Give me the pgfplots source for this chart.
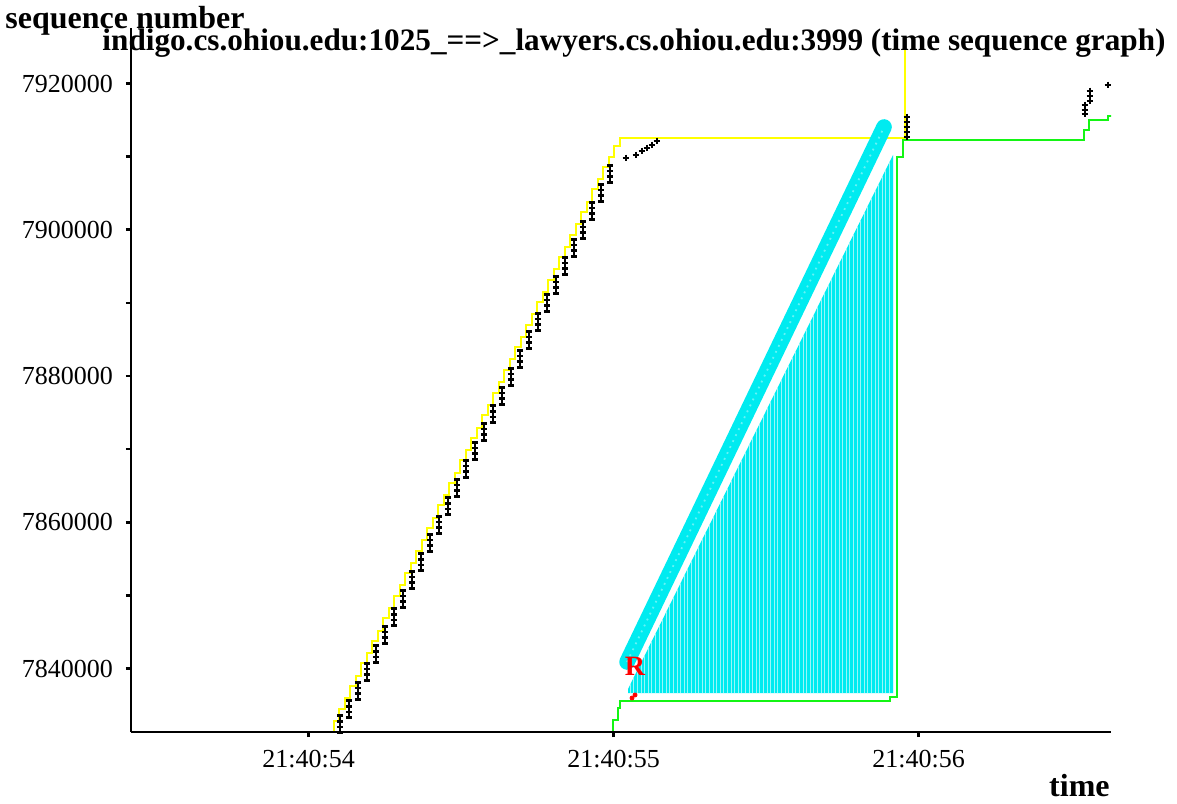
\documentclass[border=0pt]{standalone}
\usepackage{fontspec}
\setmainfont{Liberation Serif}
\usepackage{pgfplots}
\pgfplotsset{compat=1.18}
\usetikzlibrary{patterns.meta}
\definecolor{tyellow}{rgb}{1,1,0}
\definecolor{tgreen}{RGB}{20,245,20}
\definecolor{tcyan}{RGB}{0,235,240}
\pgfdeclareplotmark{segcol}{%
  \pgfpathmoveto{\pgfqpoint{0pt}{-5pt}}\pgfpathlineto{\pgfqpoint{0pt}{5pt}}%
  \pgfpathmoveto{\pgfqpoint{-1.6pt}{-4.2pt}}\pgfpathlineto{\pgfqpoint{1.6pt}{-4.2pt}}%
  \pgfpathmoveto{\pgfqpoint{-1.6pt}{-1.4pt}}\pgfpathlineto{\pgfqpoint{1.6pt}{-1.4pt}}%
  \pgfpathmoveto{\pgfqpoint{-1.6pt}{1.4pt}}\pgfpathlineto{\pgfqpoint{1.6pt}{1.4pt}}%
  \pgfpathmoveto{\pgfqpoint{-1.6pt}{4.2pt}}\pgfpathlineto{\pgfqpoint{1.6pt}{4.2pt}}%
  \pgfusepathqstroke}
\begin{document}
\begin{tikzpicture}
\useasboundingbox (0,0) rectangle (588.5pt,401.5pt);
\begin{axis}[
  at={(65.5pt,35.5pt)}, anchor=south west, scale only axis,
  width=490pt, height=352pt,
  xmin=-0.582, xmax=2.631, ymin=7831318, ymax=7927590,
  axis x line=bottom, axis y line=left,
  axis line style={-, line width=1.3pt},
  xtick={0,1,2}, xticklabels={21:40:54,21:40:55,21:40:56},
  ytick={7840000,7860000,7880000,7900000,7920000},
  yticklabels={7840000,7860000,7880000,7900000,7920000},
  minor ytick={7850000,7870000,7890000,7910000},
  scaled y ticks=false, scaled x ticks=false,
  tick align=outside, major tick length=2.5pt, minor tick length=2.5pt,
  tick style={black, line width=1.3pt},
  tick label style={font=\fontsize{13}{15}\selectfont},
  xticklabel style={yshift=-3pt},
  yticklabel style={xshift=-3pt},
]
% yellow advertised window
\addplot[tyellow, line width=0.75pt, const plot mark right] coordinates {
(0.0836,7831454) (0.1000,7832822) (0.1197,7834463) (0.1361,7835967) (0.1557,7837608)
(0.1721,7838976) (0.1918,7840754) (0.2082,7842121) (0.2279,7843762) (0.2443,7845130)
(0.2639,7846907) (0.2803,7848275) (0.3000,7849916) (0.3164,7851420) (0.3361,7853061)
(0.3525,7854429) (0.3721,7856070) (0.3885,7857574) (0.4082,7859215) (0.4246,7860582)
(0.4443,7862360) (0.4607,7863728) (0.4803,7865369) (0.4967,7866736) (0.5164,7868514)
(0.5328,7869881) (0.5525,7871522) (0.5689,7872890) (0.5885,7874668) (0.6049,7876035)
(0.6246,7877676) (0.6410,7879180) (0.6607,7880821) (0.6770,7882326) (0.6967,7883967)
(0.7131,7885334) (0.7328,7886975) (0.7492,7888479) (0.7689,7890120) (0.7852,7891488)
(0.8049,7893129) (0.8213,7894633) (0.8410,7896274) (0.8574,7897642) (0.8770,7899283)
(0.8934,7900787) (0.9131,7902428) (0.9295,7903795) (0.9492,7905573) (0.9656,7906941)
(0.9852,7908582) (1.0016,7909949) (1.0213,7911453) (1.0377,7912547) (1.9557,7912547)
(1.9590,7925265)};
% cyan vertical lines region
\addplot[draw=none, fill=tcyan] coordinates {
(1.0475,7836650) (1.0475,7837198) (1.9164,7910222) (1.9164,7836650)} -- cycle;
\addplot[draw=none, pattern={Lines[angle=90,distance=1.8pt,line width=0.3pt]}, pattern color=white!60!tcyan] coordinates {
(1.0475,7836650) (1.0475,7837198) (1.9164,7910222) (1.9164,7836650)} -- cycle;
% cyan band
\addplot[tcyan, line width=7.8pt, line cap=round] coordinates {(1.0443,7840890) (1.8869,7914052)};
\addplot[white!40!tcyan, line width=0.9pt, dash pattern=on 0.9pt off 2.4pt] coordinates {(1.0443,7840890) (1.8869,7914052)};
% green ack line
\addplot[tgreen, line width=0.8pt, const plot mark right] coordinates {
(0.9984,7831454) (1.0148,7832959) (1.0213,7834600) (1.0377,7835557) (1.9066,7835557)
(1.9295,7836104) (1.9492,7909949) (2.5426,7912274) (2.5590,7913641) (2.6213,7915009)
(2.6344,7915556)};
% black data segments
\addplot[black, only marks, mark=segcol, mark options={line width=1.3pt}] coordinates {
(0.1033,7832412) (0.1328,7834463) (0.1623,7836925) (0.1918,7839523) (0.2213,7841984)
(0.2508,7844583) (0.2803,7847044) (0.3098,7849506) (0.3393,7852104) (0.3689,7854565)
(0.3984,7857164) (0.4279,7859625) (0.4574,7862223) (0.4869,7864685) (0.5164,7867283)
(0.5459,7869745) (0.5754,7872343) (0.6049,7874804) (0.6344,7877266) (0.6639,7879864)
(0.6934,7882326) (0.7230,7884924) (0.7525,7887385) (0.7820,7889984) (0.8115,7892445)
(0.8410,7895043) (0.8705,7897505) (0.9000,7899966) (0.9295,7902565) (0.9590,7905026)
(0.9885,7907624)};
\addplot[black, only marks, mark=+, mark size=1.7pt, mark options={line width=1.3pt}] coordinates {
(1.0410,7909812) (1.0738,7910222) (1.0934,7910770) (1.1098,7911180) (1.1262,7911590) (1.1426,7912137)
(1.9623,7915419) (1.9623,7914735) (1.9623,7914052) (1.9623,7913368) (1.9623,7912684)
(2.5459,7917060) (2.5459,7916376) (2.5459,7915829)
(2.5623,7918975) (2.5623,7918291) (2.5623,7917607)
(2.6213,7919795)};
% red
\addplot[red, only marks, mark=*, mark size=1pt] coordinates {(1.0607,7835967) (1.0705,7836378)};
\node[red, font=\fontsize{14}{15}\selectfont\bfseries, inner sep=0pt] at (axis cs:1.0705,7840343) {R};
\end{axis}
\node[anchor=base west, font=\fontsize{16}{18}\selectfont\bfseries, inner sep=0pt] at (2.5pt,387pt) {sequence number};
\node[anchor=base, font=\fontsize{15.6}{18}\selectfont\bfseries, inner sep=0pt] at (317pt,376pt) {indigo.cs.ohiou.edu:1025\_==>\_lawyers.cs.ohiou.edu:3999 (time sequence graph)};
\node[anchor=base east, font=\fontsize{16}{18}\selectfont\bfseries, inner sep=0pt] at (555pt,3.5pt) {time};
\end{tikzpicture}
\end{document}
